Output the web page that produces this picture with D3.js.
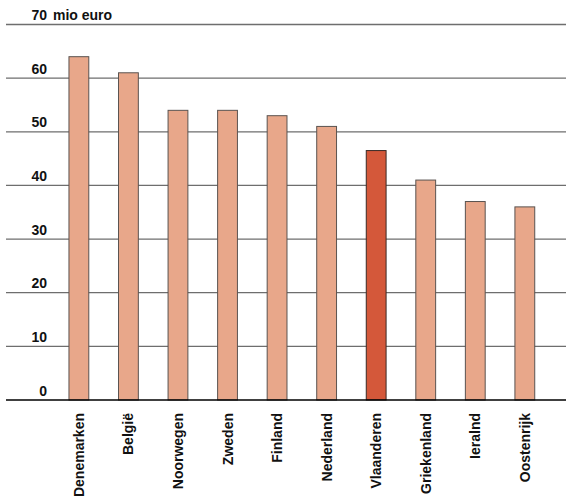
<!DOCTYPE html>
<html><head><meta charset="utf-8">
<script src="https://cdn.jsdelivr.net/npm/d3@7"></script>
<style>
body{margin:0;background:#fff;}
text{font-family:"Liberation Sans Narrow","Arial Narrow","Liberation Sans",Arial,sans-serif;font-weight:bold;fill:#111;}
</style></head>
<body><svg id="c" width="566" height="502"></svg>
<script>
const categories = ["Denemarken","België","Noorwegen","Zweden","Finland","Nederland","Vlaanderen","Griekenland","Ieralnd","Oostenrijk"];
const values = [64, 61, 54, 54, 53, 51, 46.5, 41, 37, 36];
const highlight = ["Vlaanderen"];
const yTicks = [0,10,20,30,40,50,60,70];
const unitLabel = "mio euro";

const svg = d3.select("#c");
const x = d3.scaleBand().domain(categories).range([54.1, 549.6]).paddingInner(0.6).paddingOuter(0.3);
const y = d3.scaleLinear().domain([0,70]).range([400, 24.5]);

// gridlines
svg.append("g").selectAll("line").data(yTicks.filter(d=>d>0)).join("line")
  .attr("x1",6).attr("x2",566)
  .attr("y1",d=>y(d)).attr("y2",d=>y(d))
  .attr("stroke","#6e6e6e").attr("stroke-width",1.3);

// tick labels
svg.append("g").selectAll("text").data(yTicks).join("text")
  .attr("x",47).attr("y",d=>y(d)-4.5)
  .attr("text-anchor","end").attr("font-size",14)
  .text(d=>d);
svg.append("text").attr("x",53).attr("y",y(70)-4.5).attr("font-size",14).text(unitLabel);

// bars
svg.append("g").selectAll("rect").data(categories).join("rect")
  .attr("x",d=>x(d)).attr("width",x.bandwidth())
  .attr("y",(d,i)=>y(values[i])).attr("height",(d,i)=>y(0)-y(values[i]))
  .attr("fill",d=>highlight.includes(d)?"#d4583a":"#e8a78a")
  .attr("stroke",d=>highlight.includes(d)?"#3a2a26":"#5a5350").attr("stroke-width",1);

// baseline
svg.append("line").attr("x1",6).attr("x2",566).attr("y1",y(0)).attr("y2",y(0))
  .attr("stroke","#000").attr("stroke-width",1.5);

// category labels
svg.append("g").selectAll("text").data(categories).join("text")
  .attr("transform",d=>`translate(${x(d)+x.bandwidth()/2+5},413) rotate(-90)`)
  .attr("text-anchor","end").attr("font-size",14)
  .text(d=>d);
</script></body></html>
